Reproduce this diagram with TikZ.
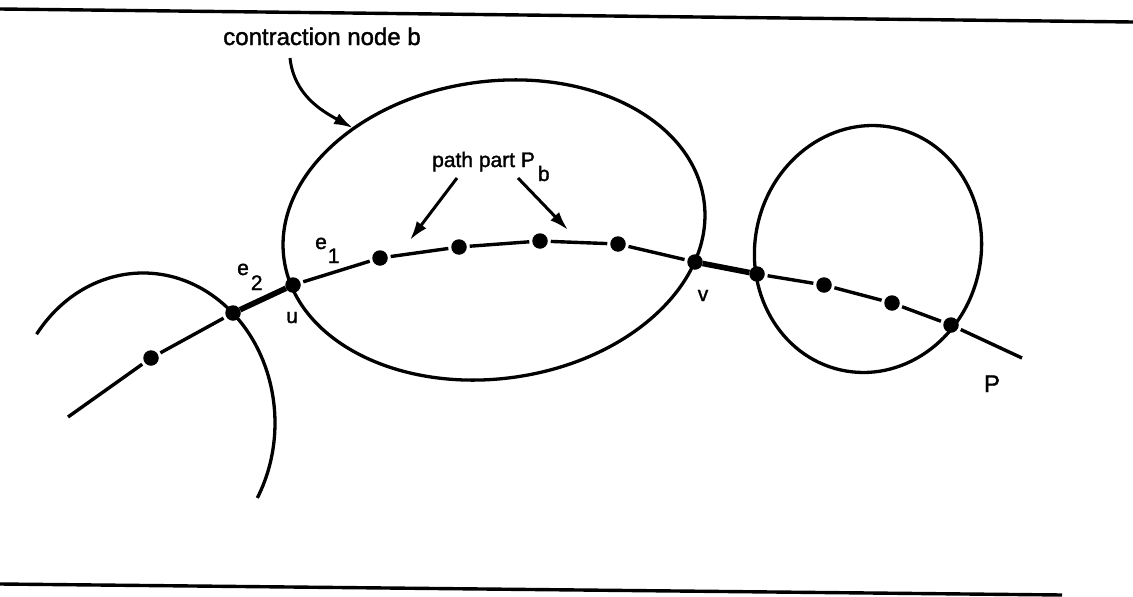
\documentclass[tikz,border=0pt]{standalone}
\usepackage{fontspec}
\setmainfont{Liberation Sans}[BoldFont=Liberation Sans,BoldFeatures={FakeBold=1.5}]
\usetikzlibrary{arrows.meta}
\begin{document}
\begin{tikzpicture}[x=1pt,y=1pt,
  dot/.style={circle,fill=black,inner sep=0pt,minimum size=15.5pt,outer sep=0pt},
  seg/.style={line width=3.4pt,shorten <=3pt,shorten >=3pt},
  tseg/.style={line width=5.6pt},
  outline/.style={line width=3.3pt},
  lab/.style={font=\fontsize{21}{21}\selectfont\bfseries,inner sep=0pt,anchor=base},
  biglab/.style={font=\fontsize{24}{24}\selectfont\bfseries,inner sep=0pt,anchor=base},
  ptr/.style={line width=3pt,-{Latex[length=19pt,width=12pt]}},
  rulestyle/.style={line width=3.4pt}]
\useasboundingbox (0,0) rectangle (1133,-597);
% horizontal rules
\coordinate (t1) at (0,-9);
\coordinate (t2) at (1133,-22);
\draw[rulestyle] (t1) -- (t2);
\coordinate (b1) at (0,-584);
\coordinate (b2) at (1062,-595);
\draw[rulestyle] (b1) -- (b2);
% contraction node b (big ellipse)
\draw[outline,rotate around={8:(494,-230)}] (494,-230) ellipse[x radius=212,y radius=148.6];
% right node
\draw[outline,rotate around={-13:(868,-249)}] (868,-249) ellipse[x radius=113,y radius=124];
% left node (arc)
\draw[outline] (36.6,-334.2) arc[start angle=143.7,end angle=-30,x radius=132,y radius=150];
% path vertices
\coordinate (s) at (68,-417);
\node[dot] (d1) at (151,-358) {};
\node[dot] (d2) at (233,-313) {};
\node[dot] (u) at (293,-285) {};
\node[dot] (d4) at (380,-258) {};
\node[dot] (d5) at (459,-247) {};
\node[dot] (d6) at (540,-241) {};
\node[dot] (d7) at (618,-244) {};
\node[dot] (v) at (695,-262) {};
\node[dot] (d9) at (757,-274) {};
\node[dot] (d10) at (824,-285) {};
\node[dot] (d11) at (892,-303) {};
\node[dot] (d12) at (951,-325) {};
\coordinate (e) at (1022,-358);
% path edges
\draw[seg,shorten <=0pt] (s) -- (d1);
\draw[seg] (d1) -- (d2);
\draw[tseg] (d2) -- (u);
\draw[seg] (u) -- (d4);
\draw[seg] (d4) -- (d5);
\draw[seg] (d5) -- (d6);
\draw[seg] (d6) -- (d7);
\draw[seg] (d7) -- (v);
\draw[tseg] (v) -- (d9);
\draw[seg] (d9) -- (d10);
\draw[seg] (d10) -- (d11);
\draw[seg] (d11) -- (d12);
\draw[seg,shorten >=0pt] (d12) -- (e);
% labels
\node[biglab] (lcon) at (322,-45) {contraction node b};
\node[lab,anchor=base west] (lpath) at (432,-167) {path part P\kern3pt\raisebox{-14pt}{b}};
\node[lab,anchor=base west] (le2) at (237,-275) {e\kern2pt\raisebox{-15pt}{2}};
\node[lab,anchor=base west] (le1) at (315,-249) {e\kern1pt\raisebox{-14pt}{1}};
\node[lab] (lu) at (292,-323) {u};
\node[lab] (lv) at (703,-301) {v};
\node[biglab] (lP) at (992,-392) {P};
% pointers
\coordinate (c0) at (290,-58);
\coordinate (c1) at (353,-128);
\draw[ptr] (c0) .. controls (294,-95) and (322,-111) .. (c1);
\coordinate (pa1) at (457,-178);
\coordinate (pa2) at (410,-240);
\draw[ptr] (pa1) -- (pa2);
\coordinate (pb1) at (518,-178);
\coordinate (pb2) at (568,-230);
\draw[ptr] (pb1) -- (pb2);
\end{tikzpicture}
\end{document}
